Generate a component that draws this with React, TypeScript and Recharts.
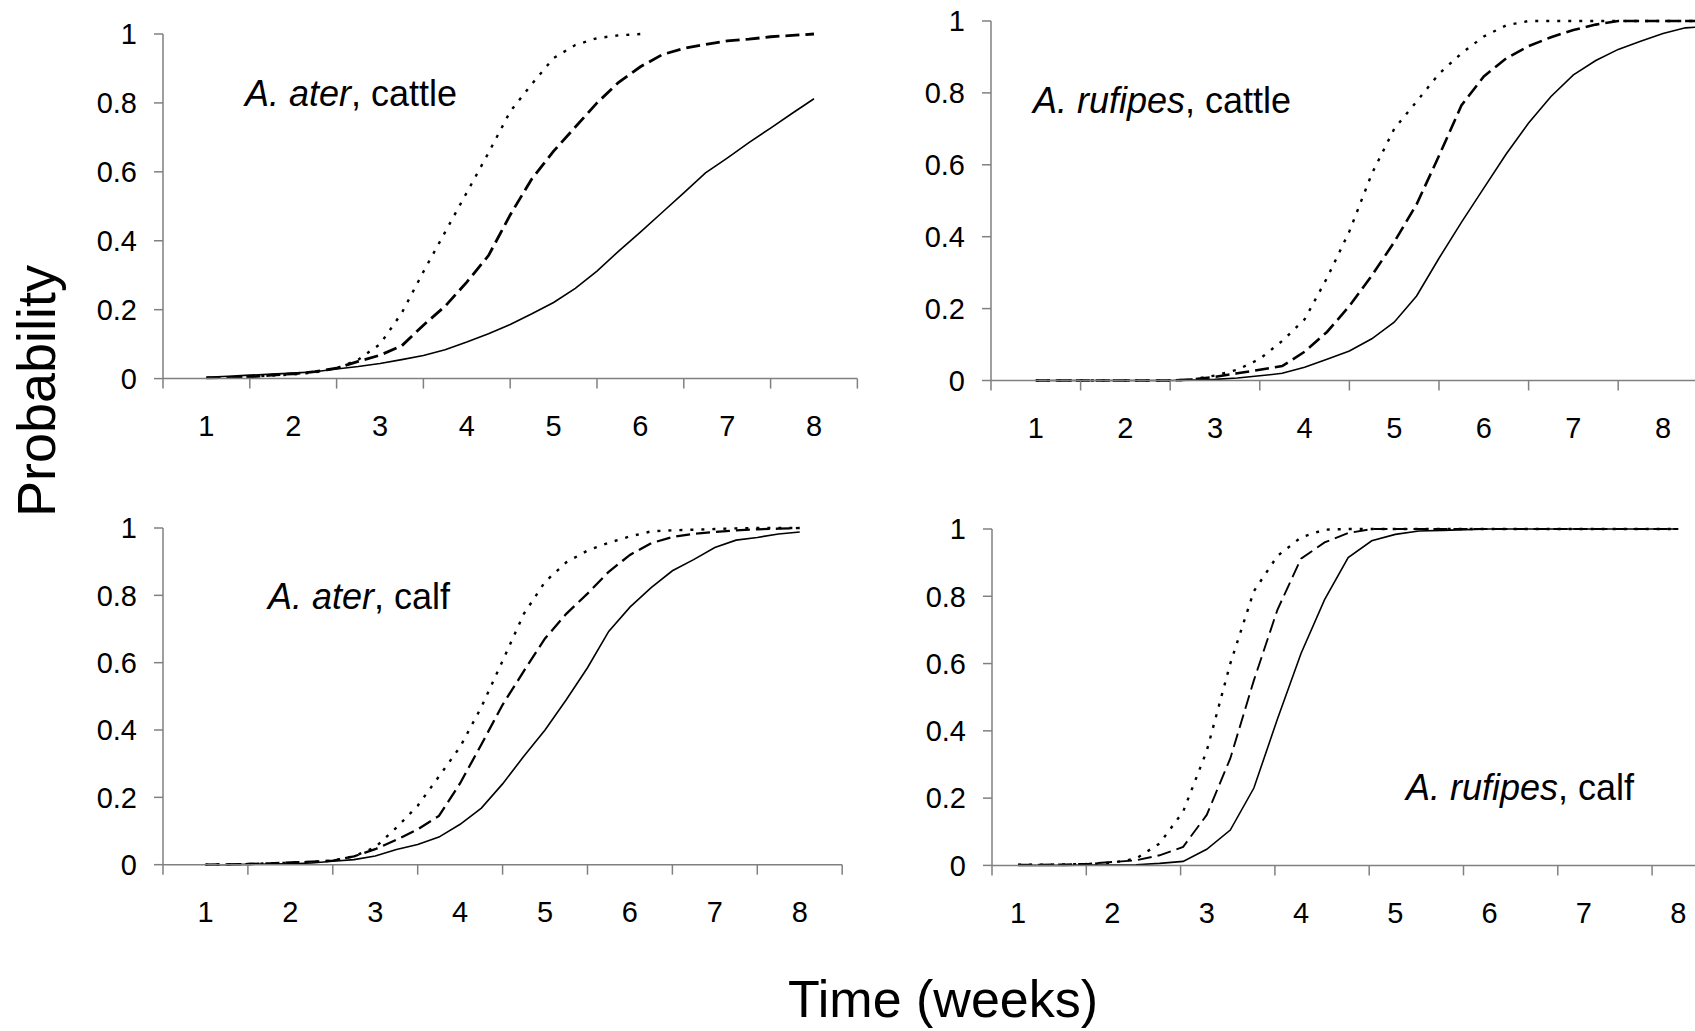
import React from 'react';
import { LineChart, Line, XAxis, YAxis } from 'recharts';

// ---------- data ----------
const WEEKS = [1, 1.25, 1.5, 1.75, 2, 2.25, 2.5, 2.75, 3, 3.25, 3.5, 3.75, 4, 4.25, 4.5, 4.75, 5, 5.25, 5.5, 5.75, 6, 6.25, 6.5, 6.75, 7, 7.25, 7.5, 7.75, 8];
const WEEKS_EXT = [1, 1.25, 1.5, 1.75, 2, 2.25, 2.5, 2.75, 3, 3.25, 3.5, 3.75, 4, 4.25, 4.5, 4.75, 5, 5.25, 5.5, 5.75, 6, 6.25, 6.5, 6.75, 7, 7.25, 7.5, 7.75, 8, 8.25, 8.5];
const X_LABELS = [1, 2, 3, 4, 5, 6, 7, 8];
const Y_TICKS = [0, 0.2, 0.4, 0.6, 0.8, 1];

// A. ater, cattle
const ATER_CATTLE_SOLID = [0.004, 0.007, 0.010, 0.013, 0.016, 0.020, 0.028, 0.035, 0.044, 0.055, 0.067, 0.084, 0.106, 0.130, 0.157, 0.188, 0.221, 0.262, 0.312, 0.370, 0.425, 0.482, 0.539, 0.597, 0.640, 0.685, 0.727, 0.770, 0.812];
const ATER_CATTLE_DASHED = [0.002, 0.003, 0.005, 0.010, 0.014, 0.020, 0.030, 0.050, 0.068, 0.095, 0.155, 0.210, 0.280, 0.357, 0.475, 0.580, 0.660, 0.730, 0.800, 0.860, 0.905, 0.940, 0.958, 0.970, 0.980, 0.985, 0.992, 0.996, 1.0];
const ATER_CATTLE_DOTTED = [0.002, 0.004, 0.006, 0.009, 0.012, 0.018, 0.030, 0.055, 0.100, 0.190, 0.310, 0.425, 0.540, 0.655, 0.775, 0.855, 0.930, 0.968, 0.988, 0.996, 1.0];

// A. rufipes, cattle
const RUF_CATTLE_SOLID = [0, 0, 0, 0, 0, 0, 0, 0.001, 0.003, 0.007, 0.013, 0.020, 0.037, 0.059, 0.082, 0.116, 0.162, 0.235, 0.340, 0.440, 0.535, 0.630, 0.716, 0.790, 0.850, 0.890, 0.921, 0.944, 0.965, 0.981, 0.985];
const RUF_CATTLE_DASHED = [0, 0, 0, 0, 0, 0, 0, 0.003, 0.010, 0.020, 0.030, 0.040, 0.080, 0.135, 0.207, 0.292, 0.385, 0.490, 0.625, 0.765, 0.846, 0.896, 0.930, 0.955, 0.975, 0.990, 1.0, 1.0, 1.0, 1.0, 1.0];
const RUF_CATTLE_DOTTED = [0, 0, 0, 0, 0, 0, 0, 0.003, 0.014, 0.030, 0.060, 0.110, 0.170, 0.285, 0.415, 0.575, 0.700, 0.776, 0.853, 0.910, 0.957, 0.988, 1.0, 1.0, 1.0, 1.0, 1.0, 1.0, 1.0, 1.0, 1.0];

// A. ater, calf
const ATER_CALF_SOLID = [0, 0, 0.001, 0.002, 0.003, 0.005, 0.010, 0.015, 0.026, 0.045, 0.060, 0.082, 0.120, 0.168, 0.240, 0.322, 0.400, 0.490, 0.585, 0.693, 0.765, 0.823, 0.873, 0.906, 0.942, 0.964, 0.972, 0.982, 0.988];
const ATER_CALF_DASHED = [0, 0.001, 0.002, 0.004, 0.007, 0.009, 0.012, 0.025, 0.046, 0.074, 0.105, 0.145, 0.242, 0.357, 0.475, 0.575, 0.672, 0.745, 0.805, 0.870, 0.920, 0.955, 0.973, 0.983, 0.988, 0.993, 0.996, 0.998, 1.0];
const ATER_CALF_DOTTED = [0, 0.001, 0.002, 0.004, 0.006, 0.008, 0.012, 0.025, 0.052, 0.110, 0.175, 0.262, 0.350, 0.468, 0.605, 0.745, 0.840, 0.898, 0.933, 0.956, 0.975, 0.990, 0.993, 0.995, 0.997, 0.999, 1.0, 1.0, 1.0];

// A. rufipes, calf
const RUF_CALF_SOLID = [0, 0, 0, 0.001, 0.001, 0.002, 0.006, 0.012, 0.048, 0.105, 0.230, 0.435, 0.630, 0.790, 0.915, 0.965, 0.984, 0.994, 0.996, 0.998, 1.0, 1.0, 1.0, 1.0, 1.0, 1.0, 1.0, 1.0, 1.0];
const RUF_CALF_DASHED = [0.002, 0.002, 0.003, 0.005, 0.010, 0.015, 0.030, 0.055, 0.150, 0.318, 0.550, 0.760, 0.912, 0.960, 0.988, 1.0, 1.0, 1.0, 1.0, 1.0, 1.0, 1.0, 1.0, 1.0, 1.0, 1.0, 1.0, 1.0, 1.0];
const RUF_CALF_DOTTED = [0.002, 0.002, 0.003, 0.004, 0.008, 0.020, 0.065, 0.160, 0.340, 0.600, 0.815, 0.920, 0.975, 0.998, 1.0, 1.0, 1.0, 1.0, 1.0, 1.0, 1.0, 1.0, 1.0, 1.0, 1.0, 1.0, 1.0, 1.0, 1.0];

// ---------- layout ----------
const FONT = '"Liberation Sans", Arial, Helvetica, sans-serif';
const AXIS = '#808080';
const YW = 90;
const MT = 30;
const MR = 10;
const XH = 85;
const XTICK_SIZE = 10;
const XTICK_MARGIN = 27;
const TICK_FONT = 29;

const rows = (weeks: number[], solid: number[], dashed: number[], dotted: number[]) =>
  weeks.map((w, i) => ({
    w,
    solid: i < solid.length ? solid[i] : null,
    dashed: i < dashed.length ? dashed[i] : null,
    dotted: i < dotted.length ? dotted[i] : null,
  }));

const PANELS = [
  { id: 'tl', left: 162.7, top: 34.4, bottom: 379, unit: 86.8, start: 0.5, dashW: 2.8,
    data: rows(WEEKS, ATER_CATTLE_SOLID, ATER_CATTLE_DASHED, ATER_CATTLE_DOTTED) },
  { id: 'tr', left: 990.7, top: 21, bottom: 380.5, unit: 89.6, start: 0.5, dashW: 2.6,
    data: rows(WEEKS_EXT, RUF_CATTLE_SOLID, RUF_CATTLE_DASHED, RUF_CATTLE_DOTTED) },
  { id: 'bl', left: 163.2, top: 528.3, bottom: 865, unit: 84.9, start: 0.5, dashW: 2.3,
    data: rows(WEEKS, ATER_CALF_SOLID, ATER_CALF_DASHED, ATER_CALF_DOTTED) },
  { id: 'br', left: 992.3, top: 529.3, bottom: 865.7, unit: 94.3, start: 0.723, dashW: 1.9,
    data: rows(WEEKS, RUF_CALF_SOLID, RUF_CALF_DASHED, RUF_CALF_DOTTED) },
];

const XTick = (props: any) => {
  const { x, y, payload } = props;
  const v = payload.value;
  if (X_LABELS.includes(v)) {
    return (
      <text x={x} y={y} dy="0.71em" textAnchor="middle" fontSize={TICK_FONT} fontFamily={FONT} fill="#000">
        {v}
      </text>
    );
  }
  return (
    <line x1={x} x2={x} y1={y - XTICK_SIZE - XTICK_MARGIN} y2={y - XTICK_MARGIN} stroke={AXIS} strokeWidth={1.5} />
  );
};

function Panel({ p }: { p: any }) {
  const plotW = p.unit * 8;
  const plotH = p.bottom - p.top;
  const marks: number[] = [];
  for (let i = 0; i <= 8; i++) marks.push(p.start + i);
  const xticks = [...marks, ...X_LABELS].sort((a, b) => a - b);
  return (
    <div style={{ position: 'absolute', left: p.left - YW, top: p.top - MT }}>
      <LineChart
        width={YW + plotW + MR}
        height={MT + plotH + XH}
        data={p.data}
        margin={{ top: MT, right: MR, bottom: 0, left: 0 }}
      >
        <XAxis
          dataKey="w"
          type="number"
          domain={[p.start, p.start + 8]}
          ticks={xticks}
          interval={0}
          height={XH}
          tickSize={XTICK_SIZE}
          tickMargin={XTICK_MARGIN}
          tickLine={false}
          axisLine={{ stroke: AXIS, strokeWidth: 1.5 }}
          tick={(props: any) => <XTick {...props} />}
          allowDataOverflow
        />
        <YAxis
          type="number"
          domain={[0, 1]}
          ticks={Y_TICKS}
          interval={0}
          width={YW}
          tickSize={9}
          tickMargin={17}
          axisLine={{ stroke: AXIS, strokeWidth: 1.5 }}
          tickLine={{ stroke: AXIS, strokeWidth: 1.5 }}
          tick={{ fontSize: TICK_FONT, fill: '#000', fontFamily: FONT }}
        />
        <Line type="linear" dataKey="solid" stroke="#000" strokeWidth={1.6} dot={false} isAnimationActive={false} />
        <Line type="linear" dataKey="dashed" stroke="#000" strokeWidth={p.dashW} strokeDasharray="14 6" dot={false} isAnimationActive={false} />
        <Line type="linear" dataKey="dotted" stroke="#000" strokeWidth={2.4} strokeDasharray="3 8" dot={false} isAnimationActive={false} />
      </LineChart>
    </div>
  );
}

const TITLES = [
  { italic: 'A. ater', rest: ', cattle', x: 245, y: 106 },
  { italic: 'A. rufipes', rest: ', cattle', x: 1033, y: 113 },
  { italic: 'A. ater', rest: ', calf', x: 268, y: 609 },
  { italic: 'A. rufipes', rest: ', calf', x: 1406, y: 800 },
];

export default function App() {
  return (
    <div style={{ position: 'absolute', left: 0, top: 0, width: 1695, height: 1031, overflow: 'hidden', background: '#fff' }}>
      {PANELS.map((p) => (
        <Panel key={p.id} p={p} />
      ))}
      <svg width={1695} height={1031} style={{ position: 'absolute', left: 0, top: 0, pointerEvents: 'none' }}>
        {TITLES.map((t, i) => (
          <text key={i} x={t.x} y={t.y} fontSize={36} fontFamily={FONT} fill="#000">
            <tspan fontStyle="italic">{t.italic}</tspan>
            {t.rest}
          </text>
        ))}
        <text transform="translate(55,391) rotate(-90)" textAnchor="middle" fontSize={54} fontFamily={FONT} fill="#000">
          Probability
        </text>
        <text x={943} y={1017} textAnchor="middle" fontSize={52} fontFamily={FONT} fill="#000">
          Time (weeks)
        </text>
      </svg>
    </div>
  );
}
